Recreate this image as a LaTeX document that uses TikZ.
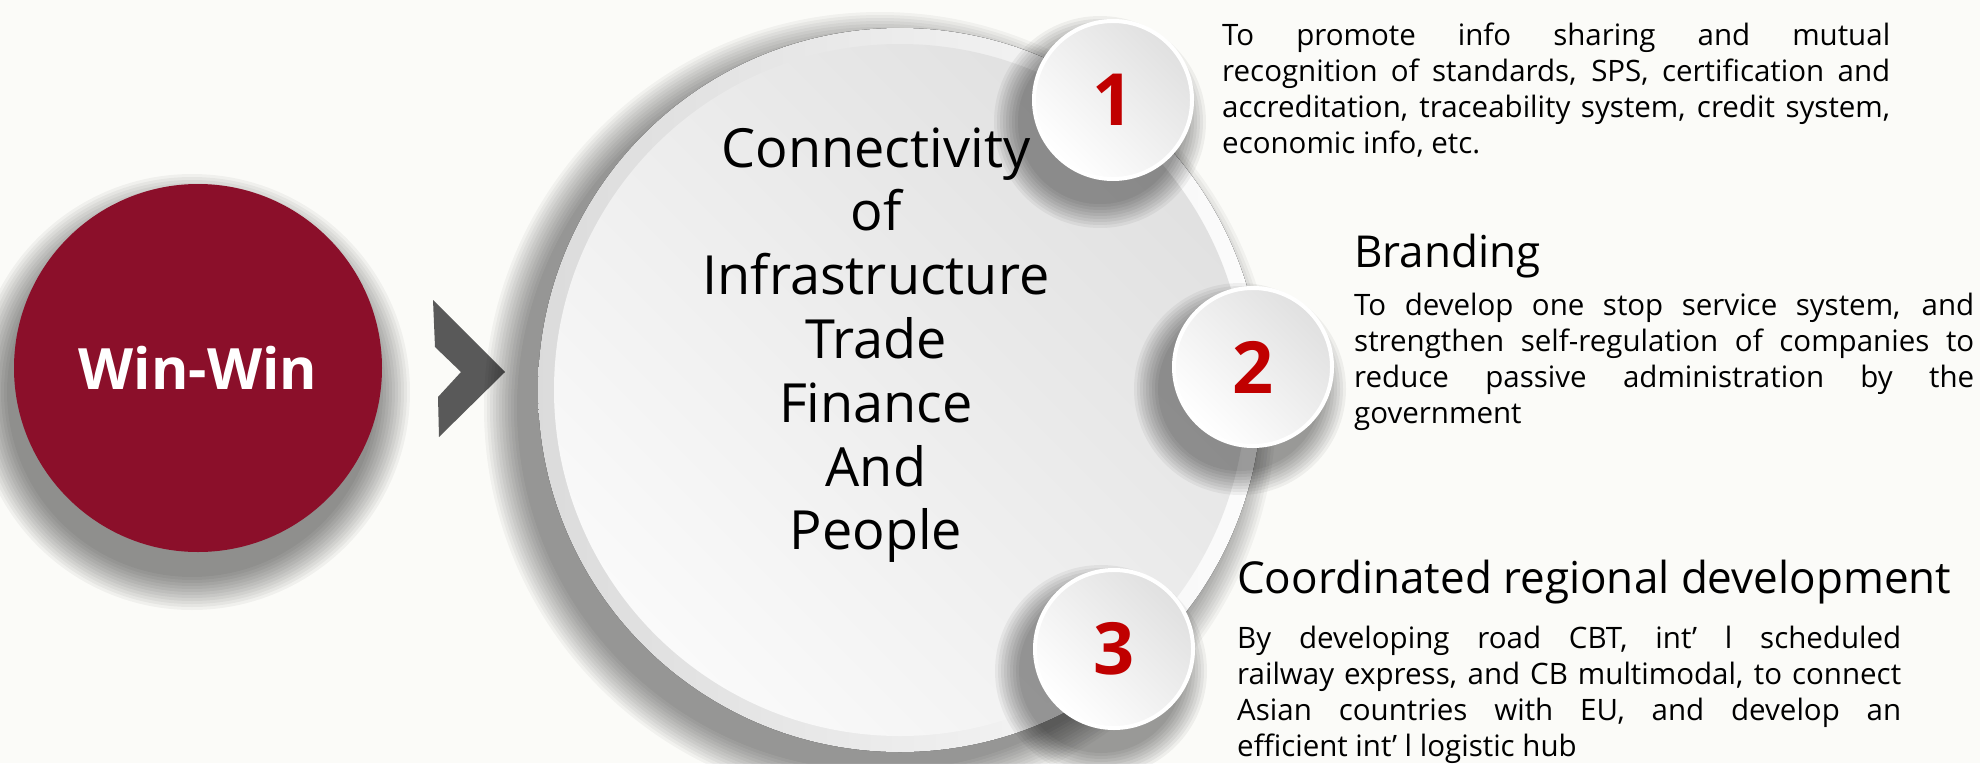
\documentclass[tikz,border=0pt]{standalone}
\usepackage{fontspec}
\setmainfont{Open Sans}
\usepackage{xcolor}

\definecolor{winred}{RGB}{139,15,42}
\definecolor{numred}{RGB}{192,0,0}
\definecolor{chevgray}{RGB}{89,89,89}
\definecolor{paper}{RGB}{251,251,248}

\newcommand{\jline}[1]{\makebox[\linewidth][s]{#1}}

\begin{document}
\begin{tikzpicture}[x=1pt,y=-1pt,
  ball/.style={circle, minimum size=158pt, inner sep=0pt, draw=white, line width=4pt,
    bottom color=white, top color=gray!24, shading angle=-45},
  num/.style={font=\fontsize{72}{72}\selectfont\bfseries, text=numred},
  body/.style={anchor=base west, inner sep=0pt, font=\fontsize{29.5}{36}\selectfont},
  head/.style={anchor=base west, inner sep=0pt, font=\fontsize{44}{44}\selectfont}]
\useasboundingbox (0,0) rectangle (1980,763);
\fill[paper] (0,0) rectangle (1980,763);
% win-win
\foreach \k in {1,...,12}{
	\fill[black,opacity=.045] (192,392) circle ({182+3*\k});
	}
\node[circle, fill=winred, minimum size=368pt, inner sep=0pt, text=white,
  font=\fontsize{57}{57}\selectfont\bfseries] (win) at (198,368) {Win-Win};
\fill[chevgray] (433,300) -- (505,372) -- (439,437) -- (438,397) -- (461,372) -- (435,347) -- cycle;
% hub
\foreach \k in {1,...,12}{
	\fill[black,opacity=.04] (880,408) circle ({360+3*\k});
	}
\fill[left color=gray!28, right color=gray!2] (900,390) circle (362);
\node[circle, minimum size=692pt, inner sep=0pt, bottom color=gray!4, top color=gray!24,
  shading angle=-45] (hub) at (900,390) {};
\node[anchor=base, inner sep=0pt] (hubtext) at (876,167) {\parbox[t]{420pt}{\centering
  \fontsize{54}{63.8}\selectfont Connectivity\\of\\Infrastructure\\Trade\\Finance\\And\\People}};
% numbered balls
\foreach \c in {(1100,122),(1240,389),(1101,671)}{
	\foreach \k in {1,...,9}{
		\fill[black,opacity=.05] \c circle ({79+3*\k});
		}
	}
\node[ball, num] (one) at (1113,100) {1};
\node[ball, num] (two) at (1253,367) {2};
\node[ball, num] (three) at (1114,649) {3};
% texts
\node[body] (txtone) at (1222,45) {\parbox[t]{668pt}{\fontsize{29.5}{36}\selectfont
\jline{To promote info sharing and mutual}\\
\jline{recognition of standards, SPS, certification and}\\
\jline{accreditation, traceability system, credit system,}\\
economic info, etc.}};
\node[head] (headtwo) at (1354,267) {Branding};
\node[body] (txttwo) at (1354,315) {\parbox[t]{620pt}{\fontsize{29.5}{36}\selectfont
\jline{To develop one stop service system, and}\\
\jline{strengthen self-regulation of companies to}\\
\jline{reduce passive administration by the}\\
government}};
\node[head] (headthree) at (1237,593) {Coordinated regional development};
\node[body] (txtthree) at (1237,648) {\parbox[t]{664pt}{\fontsize{29.5}{36}\selectfont
\jline{By developing road CBT, int’ l scheduled}\\
\jline{railway express, and CB multimodal, to connect}\\
\jline{Asian countries with EU, and develop an}\\
efficient int’ l logistic hub}};
\end{tikzpicture}
\end{document}
